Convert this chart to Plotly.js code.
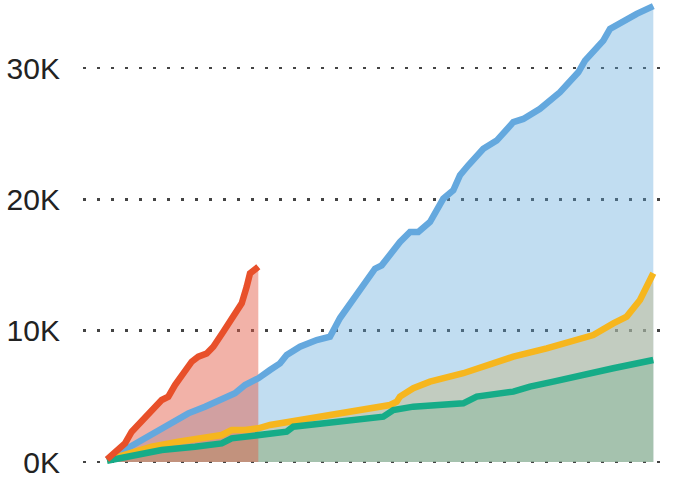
<!DOCTYPE html>
<html>
<head>
<meta charset="utf-8">
<script src="https://cdn.plot.ly/plotly-3.0.1.min.js"></script>
<style>html,body{margin:0;padding:0;background:#fff;}#chart{width:674px;height:486px;}</style>
</head>
<body>
<div id="chart"></div>
<script>
// Day index (x) and cumulative values (y)
var blueX = [2, 16.7, 33.3, 46.7, 66.7, 83.3, 100, 116.7, 130, 140, 153.3, 165, 175, 181.7, 195, 211.7, 225, 235, 241.7, 250, 258.3, 270, 276.7, 285, 295, 305, 313.3, 325, 331.7, 338.3, 348.3, 355, 363.3, 370, 378.3, 391.7, 408.3, 418.3, 435, 455, 463.3, 473.3, 480, 491.7, 498.3, 505, 518.3, 531.7, 548.3];
var blueY = [150, 785, 1548, 2183, 2945, 3707, 4215, 4722, 5230, 5864, 6372, 7007, 7514, 8146, 8782, 9290, 9544, 10966, 11727, 12667, 13457, 14722, 14977, 15865, 16753, 17517, 17517, 18278, 19297, 20058, 20694, 21836, 22600, 23100, 23850, 24480, 25880, 26130, 26900, 28160, 28920, 29680, 30570, 31580, 32090, 32990, 33620, 34130, 34720];

var yellowX = [2, 31.7, 46.7, 73.3, 100, 116.7, 126.7, 140, 153.3, 165, 195, 228.3, 255, 285, 291.7, 295, 308.3, 325, 358.3, 385, 408.3, 441.7, 468.3, 488.3, 508.3, 521.7, 535, 541.7, 548.3];
var yellowY = [150, 785, 1167, 1548, 1800, 2056, 2437, 2437, 2563, 2818, 3200, 3580, 3960, 4340, 4590, 4980, 5620, 6120, 6760, 7390, 8020, 8660, 9290, 9670, 10560, 11070, 12340, 13350, 14370];

var greenX = [2, 23.3, 56.7, 90, 116.7, 126.7, 140, 163.3, 181.7, 188.3, 228.3, 278.3, 288.3, 308.3, 358.3, 371.7, 408.3, 425, 448.3, 475, 508.3, 548.3];
var greenY = [100, 400, 914, 1167, 1420, 1800, 1930, 2056, 2310, 2690, 3070, 3450, 3960, 4215, 4470, 4980, 5360, 5740, 6120, 6600, 7140, 7770];

var redX = [2, 10, 20, 26.7, 31.7, 43.3, 56.7, 63.3, 70, 86.7, 93.3, 101.7, 108.3, 118.3, 126.7, 131.7, 136.7, 141.7, 145, 153.3];
var redY = [200, 784, 1422, 2310, 2690, 3680, 4720, 4970, 5860, 7640, 8020, 8270, 8780, 9920, 10940, 11570, 12080, 13350, 14360, 14870];

var tickVals = [0, 10000, 20000, 30000];
var tickText = ["0K", "10K", "20K", "30K"];

var series = [
  {x: blueX, y: blueY, line: '#64A8DE', fill: 'rgba(93,165,218,0.38)'},
  {x: yellowX, y: yellowY, line: '#F6B61E', fill: 'rgba(195,188,144,0.5)'},
  {x: greenX, y: greenY, line: '#16AC88', fill: 'rgba(136,184,156,0.5)'},
  {x: redX, y: redY, line: '#E8502A', fill: 'rgba(228,92,70,0.47)'}
];

var data = [];
series.forEach(function (s) {
  data.push({x: s.x, y: s.y, type: 'scatter', mode: 'lines',
    line: {width: 0, color: s.fill}, fill: 'tozeroy', fillcolor: s.fill,
    hoverinfo: 'skip', showlegend: false});
});
series.forEach(function (s) {
  data.push({x: s.x, y: s.y, type: 'scatter', mode: 'lines',
    line: {color: s.line, width: 6.5, shape: 'linear'},
    hoverinfo: 'skip', showlegend: false});
});

var layout = {
  width: 674, height: 486, autosize: false,
  margin: {l: 83, r: 5, t: 2, b: 6, pad: 0},
  paper_bgcolor: '#fff', plot_bgcolor: '#fff',
  font: {family: 'Liberation Sans, Arial, sans-serif', color: '#222'},
  xaxis: {range: [-22, 564], showgrid: false, zeroline: false, showticklabels: false, showline: false, ticks: ''},
  yaxis: {range: [-1371, 35034], tickvals: tickVals, ticktext: tickText,
    showgrid: true, gridcolor: '#444', gridwidth: 2.5, griddash: '2.5px,11.5px',
    zeroline: false, showline: false, ticks: '', ticklabelstandoff: 22,
    tickfont: {size: 30, color: '#222'}},
  showlegend: false
};

Plotly.newPlot('chart', data, layout, {displayModeBar: false, staticPlot: true});
</script>
</body>
</html>
